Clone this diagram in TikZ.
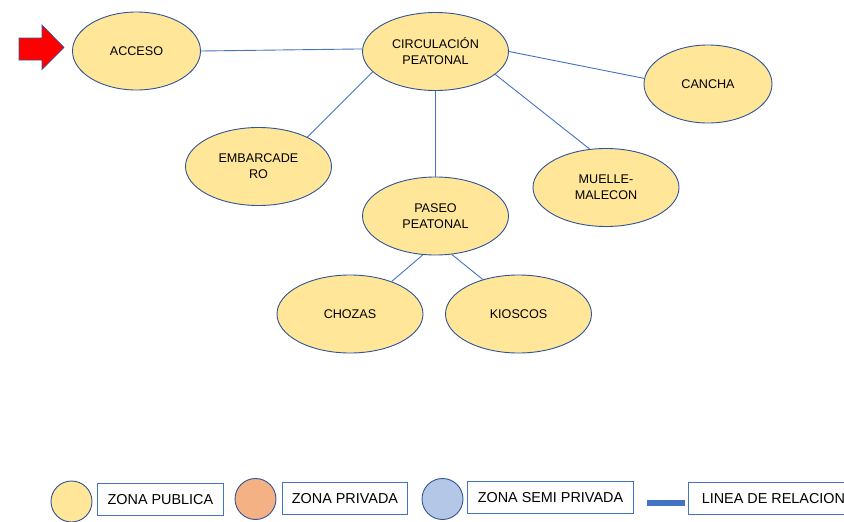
\documentclass[tikz,border=0pt]{standalone}
\usepackage{fontspec}
\setmainfont{Liberation Sans}
\usepackage{tikz}
\usepackage{xcolor}
\usetikzlibrary{shapes.geometric}

\definecolor{zonaamarilla}{RGB}{255,230,153}
\definecolor{zonanaranja}{RGB}{244,177,131}
\definecolor{zonaazul}{RGB}{180,199,231}
\definecolor{bordeazul}{RGB}{47,85,151}
\definecolor{lineaazul}{RGB}{68,114,196}

\begin{document}
\begin{tikzpicture}[x=1pt,y=-1pt,
		zona/.style={ellipse, draw=bordeazul, line width=0.9pt, fill=zonaamarilla, inner sep=0pt,
			minimum width=146pt, minimum height=78pt, align=center,
			font=\fontsize{12.6}{16}\selectfont},
		relacion/.style={draw=lineaazul, line width=0.9pt},
		leyenda/.style={ellipse, draw=bordeazul, line width=0.9pt, inner sep=0pt,
			minimum width=41pt, minimum height=41pt},
		cuadro/.style={draw=lineaazul, line width=0.9pt, anchor=north west, inner xsep=7pt,
			minimum height=32pt, align=left, font=\fontsize{14.4}{16}\selectfont}]
		% Page size
		\useasboundingbox (0,0) rectangle (844,522);

		% Entry arrow
		\draw[bordeazul, line width=0.7pt, fill=red] (19,38) -- (42,38) -- (42,25) -- (64,47.5)
			-- (42,69.5) -- (42,60) -- (19,60) -- cycle;

		% Zones
		\node[zona, minimum width=128pt] (acceso) at (136.5,51) {ACCESO};
		\node[zona] (circ) at (435.5,51.5) {CIRCULACIÓN\\PEATONAL};
		\node[zona, minimum width=128pt] (cancha) at (708,84) {CANCHA};
		\node[zona] (emb) at (258.5,166.5) {EMBARCADE\\RO};
		\node[zona] (paseo) at (435.5,216) {PASEO\\PEATONAL};
		\node[zona] (muelle) at (606,187.5) {MUELLE-\\MALECON};
		\node[zona] (chozas) at (350,314) {CHOZAS};
		\node[zona] (kioscos) at (518.5,314) {KIOSCOS};

		% Relation lines
		\draw[relacion] (acceso.east) -- (circ.178);
		\draw[relacion] (circ.east) -- (cancha.175);
		\draw[relacion] (circ.198) -- (emb.31);
		\draw[relacion] (circ.south) -- (paseo.north);
		\draw[relacion] (circ.339) -- (muelle.113);
		\draw[relacion] (paseo.252) -- (chozas.38);
		\draw[relacion] (paseo.293) -- (kioscos.136);

		% Legend
		\node[leyenda, fill=zonaamarilla] (lpub) at (71.5,501.5) {};
		\node[cuadro, minimum width=126pt] (tpub) at (97,483) {ZONA PUBLICA};
		\node[leyenda, fill=zonanaranja] (lpriv) at (255.5,499) {};
		\node[cuadro, minimum width=125pt] (tpriv) at (282,482) {ZONA PRIVADA};
		\node[leyenda, fill=zonaazul] (lsemi) at (442.5,499) {};
		\node[cuadro, minimum width=166pt] (tsemi) at (467,481) {ZONA SEMI PRIVADA};
		\draw[lineaazul, line width=6pt] (647,502.5) -- (685,502.5);
		\node[cuadro, minimum width=170pt] (trel) at (688,482) {LINEA DE RELACION};
	\end{tikzpicture}
\end{document}
